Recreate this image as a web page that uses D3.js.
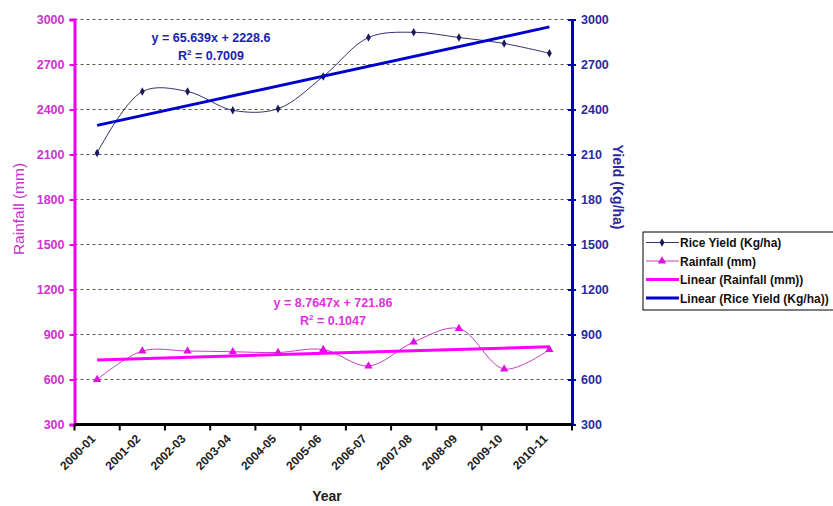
<!DOCTYPE html>
<html>
<head>
<meta charset="utf-8">
<script src="https://cdn.jsdelivr.net/npm/d3@7"></script>
<style>
  body { margin: 0; background: #fff; }
  svg { font-family: Arial, "Liberation Sans", sans-serif; }
</style>
</head>
<body>
<svg id="canvas" width="833" height="506"></svg>
<script>
const years = ["2000-01", "2001-02", "2002-03", "2003-04", "2004-05", "2005-06",
  "2006-07", "2007-08", "2008-09", "2009-10", "2010-11"];
const riceYield = [2110, 2520, 2520, 2395, 2405, 2620, 2880, 2915, 2880, 2840, 2775];
const rainfall = [600, 790, 790, 785, 780, 800, 690, 850, 940, 670, 800];
const yTicks = [300, 600, 900, 1200, 1500, 1800, 2100, 2400, 2700, 3000];
// trend lines as printed on the chart
const riceTrend = { slope: 65.639, intercept: 2228.6, r2: "0.7009" };
const rainTrend = { slope: 8.7647, intercept: 721.86, r2: "0.1047" };

const svg = d3.select("#canvas");
const plotLeft = 74.5, plotRight = 572, plotTop = 19.5, plotBottom = 424.5;

const x = d3.scaleBand().domain(years).range([plotLeft, plotRight]);
const xc = d => x(d) + x.bandwidth() / 2;
const yL = d3.scaleLinear().domain([300, 3000]).range([plotBottom, plotTop]);
const yR = d3.scaleLinear().domain([300, 3000]).range([plotBottom, plotTop]);

// gridlines
svg.append("g").selectAll("line").data(yTicks.slice(1)).enter().append("line")
  .attr("x1", plotLeft).attr("x2", plotRight)
  .attr("y1", d => yL(d)).attr("y2", d => yL(d))
  .attr("stroke", "#4d5c40").attr("stroke-width", 1)
  .attr("stroke-dasharray", "3,3");

// rainfall series
const rainLine = d3.line().x((d, i) => xc(years[i])).y(d => yL(d)).curve(d3.curveCatmullRom);
svg.append("path").attr("d", rainLine(rainfall))
  .attr("fill", "none").attr("stroke", "#c83cc8").attr("stroke-width", 1);

// rice series
const riceLine = d3.line().x((d, i) => xc(years[i])).y(d => yR(d)).curve(d3.curveCatmullRom);
svg.append("path").attr("d", riceLine(riceYield))
  .attr("fill", "none").attr("stroke", "#333370").attr("stroke-width", 1);

// markers
const tri = d3.symbol().type(d3.symbolTriangle).size(30);
svg.append("g").selectAll("path").data(rainfall).enter().append("path")
  .attr("d", tri)
  .attr("transform", (d, i) => `translate(${xc(years[i])},${yL(d)})`)
  .attr("fill", "#e010e0");
const dia = d3.symbol().type(d3.symbolDiamond).size(20);
svg.append("g").selectAll("path").data(riceYield).enter().append("path")
  .attr("d", dia)
  .attr("transform", (d, i) => `translate(${xc(years[i])},${yR(d)})`)
  .attr("fill", "#1a1a5a");

// trend lines
function trendAt(t, i) {
  return t.slope * (i + 1) + t.intercept;
}
const last = years.length - 1;
svg.append("line")
  .attr("x1", xc(years[0])).attr("x2", xc(years[last]))
  .attr("y1", yL(trendAt(rainTrend, 0))).attr("y2", yL(trendAt(rainTrend, last)))
  .attr("stroke", "#ff00ff").attr("stroke-width", 3);
svg.append("line")
  .attr("x1", xc(years[0])).attr("x2", xc(years[last]))
  .attr("y1", yR(trendAt(riceTrend, 0))).attr("y2", yR(trendAt(riceTrend, last)))
  .attr("stroke", "#0000cc").attr("stroke-width", 3);

// left axis
const gL = svg.append("g").attr("transform", `translate(${plotLeft},0)`)
  .call(d3.axisLeft(yL).tickValues(yTicks).tickFormat(d3.format("d")).tickSize(5).tickPadding(5));
gL.select(".domain").attr("stroke", "#ee00ee").attr("stroke-width", 3);
gL.selectAll(".tick line").attr("stroke", "#ee00ee").attr("stroke-width", 2);
gL.selectAll("text").attr("fill", "#cc33cc").attr("font-size", 12.5)
  .attr("font-weight", "bold").attr("font-family", "Arial");

// right axis
const gR = svg.append("g").attr("transform", `translate(${plotRight},0)`)
  .call(d3.axisRight(yR).tickValues(yTicks).tickFormat(d3.format("d")).tickSize(0).tickPadding(9));
gR.select(".domain").attr("stroke", "#0000bb").attr("stroke-width", 3);
gR.selectAll(".tick line").attr("x1", -4).attr("x2", 4)
  .attr("stroke", "#0000bb").attr("stroke-width", 2);
gR.selectAll("text").attr("fill", "#2a2aa0").attr("font-size", 12.5)
  .attr("font-weight", "bold").attr("font-family", "Arial");

// bottom axis
const gB = svg.append("g").attr("transform", `translate(0,${plotBottom})`);
gB.append("line").attr("x1", plotLeft).attr("x2", plotRight)
  .attr("stroke", "#000").attr("stroke-width", 3);
gB.selectAll(".tk").data(d3.range(years.length + 1)).enter().append("line")
  .attr("x1", i => plotLeft + i * x.step()).attr("x2", i => plotLeft + i * x.step())
  .attr("y1", 0).attr("y2", 6).attr("stroke", "#000").attr("stroke-width", 2);
gB.selectAll(".lbl").data(years).enter().append("text")
  .attr("transform", d => `translate(${xc(d) - 1},${15}) rotate(-45)`)
  .attr("text-anchor", "end").attr("font-size", 12).attr("font-weight", "bold")
  .attr("fill", "#222").text(d => d);

// axis titles
svg.append("text").attr("transform", "translate(24,209) rotate(-90)")
  .attr("text-anchor", "middle").attr("font-size", 15.5).attr("fill", "#cc33cc")
  .text("Rainfall (mm)");
svg.append("rect").attr("x", 602).attr("y", 138).attr("width", 30).attr("height", 96)
  .attr("fill", "#fff");
svg.append("text").attr("transform", "translate(613,187) rotate(90)")
  .attr("text-anchor", "middle").attr("font-size", 14).attr("font-weight", "bold")
  .attr("fill", "#2a2aa0").text("Yield (Kg/ha)");
svg.append("text").attr("x", 327).attr("y", 501).attr("text-anchor", "middle")
  .attr("font-size", 14).attr("font-weight", "bold").attr("fill", "#222").text("Year");

// equations
function eqn(t, cx, cy, color) {
  const g = svg.append("g").attr("fill", color).attr("font-size", 12.5)
    .attr("font-weight", "bold").attr("text-anchor", "middle");
  g.append("text").attr("x", cx).attr("y", cy)
    .text(`y = ${t.slope}x + ${t.intercept}`);
  const r = g.append("text").attr("x", cx).attr("y", cy + 17.5);
  r.append("tspan").text("R");
  r.append("tspan").attr("font-size", 8).attr("dy", -5).text("2");
  r.append("tspan").attr("dy", 5).text(` = ${t.r2}`);
}
eqn(riceTrend, 211, 42, "#2020b0");
eqn(rainTrend, 333, 307, "#dd33dd");

// legend
const lg = svg.append("g").attr("transform", "translate(643,232)");
lg.append("rect").attr("x", 0).attr("y", 0).attr("width", 200).attr("height", 78)
  .attr("fill", "#fff").attr("stroke", "#000").attr("stroke-width", 1);
const legendItems = [
  { label: "Rice Yield (Kg/ha)", color: "#333370", w: 1, sym: dia, symColor: "#1a1a5a" },
  { label: "Rainfall (mm)", color: "#c83cc8", w: 1, sym: tri, symColor: "#e010e0" },
  { label: "Linear (Rainfall (mm))", color: "#ff00ff", w: 3 },
  { label: "Linear (Rice Yield (Kg/ha))", color: "#0000cc", w: 3 }
];
const li = lg.selectAll(".li").data(legendItems).enter().append("g")
  .attr("transform", (d, i) => `translate(0,${10.5 + i * 18.5})`);
li.append("line").attr("x1", 3).attr("x2", 36).attr("y1", 0).attr("y2", 0)
  .attr("stroke", d => d.color).attr("stroke-width", d => d.w);
li.filter(d => d.sym).append("path").attr("d", d => d.sym())
  .attr("transform", "translate(19,0)").attr("fill", d => d.symColor);
li.append("text").attr("x", 37).attr("y", 4.5).attr("font-size", 12)
  .attr("font-weight", "bold").attr("fill", "#111").text(d => d.label);
</script>
</body>
</html>
